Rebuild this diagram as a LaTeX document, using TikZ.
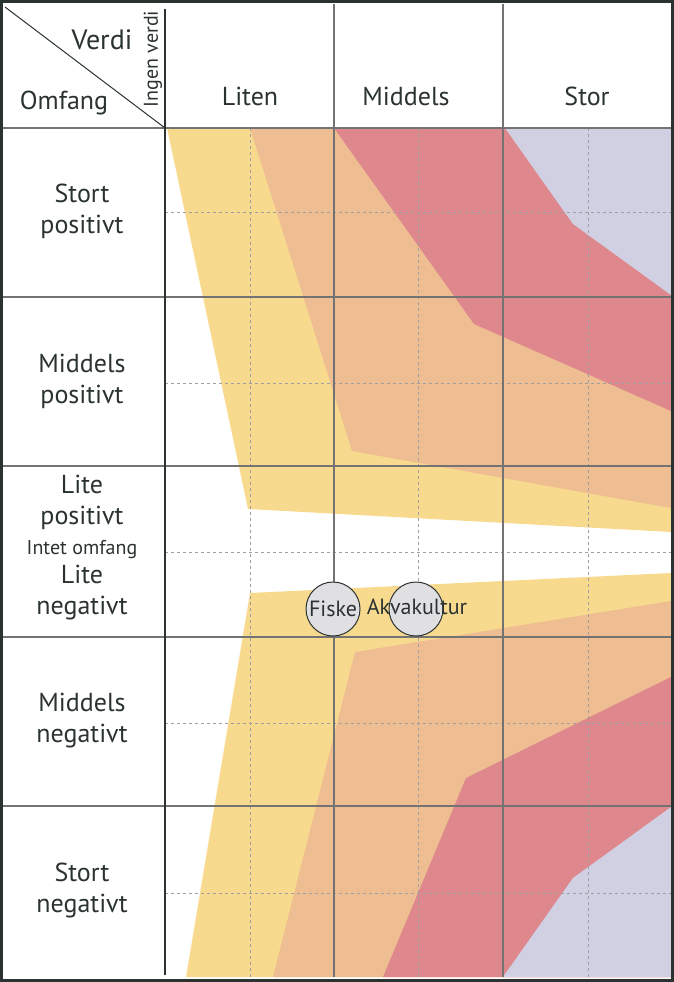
\documentclass[tikz,border=0pt]{standalone}
\usepackage{fontspec}
\setmainfont{PT Sans}
\definecolor{txt}{HTML}{2A3232}
\definecolor{gul}{HTML}{F7DA8E}
\definecolor{oransje}{HTML}{EFBD92}
\definecolor{rosa}{HTML}{DE878D}
\definecolor{lilla}{HTML}{D1D0E3}
\definecolor{sirkel}{HTML}{E0E0E2}
\begin{document}
\begin{tikzpicture}[x=1pt, y=-1pt,
    hjelp/.style={draw=gray!75, dashed, line width=1pt},
    rute/.style={draw=black!55, line width=1.8pt},
    etikett/.style={text=txt, font=\fontsize{26}{31}\selectfont, align=center, inner sep=0pt},
    sak/.style={circle, draw=txt, fill=sirkel, line width=1pt, minimum size=54pt, inner sep=0pt}]
    \useasboundingbox (0,0) rectangle (674,982);
    % fargefelt, positiv side
    \fill[gul] (167,128) -- (248,509) -- (671,532) -- (671,128) -- cycle;
    \fill[oransje] (250,128) -- (352,451) -- (671,508) -- (671,128) -- cycle;
    \fill[rosa] (334,128) -- (474,324) -- (671,411) -- (671,128) -- cycle;
    \fill[lilla] (505,128) -- (573,224) -- (671,295) -- (671,128) -- cycle;
    % fargefelt, negativ side
    \fill[gul] (186,977) -- (250,593) -- (671,573) -- (671,977) -- cycle;
    \fill[oransje] (273,977) -- (355,652) -- (671,601) -- (671,977) -- cycle;
    \fill[rosa] (383,977) -- (466,778) -- (671,677) -- (671,977) -- cycle;
    \fill[lilla] (503,977) -- (573,878) -- (671,807) -- (671,977) -- cycle;
    % hjelpelinjer
    \foreach \y in {212,383,552,723,893}
        \draw[hjelp] (165,\y) -- (671,\y);
    \foreach \x in {250,418,588}
        \draw[hjelp] (\x,128) -- (\x,977);
    % rutenett
    \foreach \y in {128,297,466,637,806}
        \draw[rute] (3,\y) -- (671,\y);
    \foreach \x in {334,503}
        \draw[rute] (\x,4) -- (\x,977);
    \coordinate (hjorne) at (5,7);
    \coordinate (kryss) at (165,128);
    \draw[txt, line width=1pt] (hjorne) -- (kryss);
    \draw[txt, line width=2.6pt] (165,9) -- (165,975);
    \draw[txt, line width=3pt] (1.5,1.5) rectangle (672.5,980.5);
    % overskrifter
    \node[etikett, font=\fontsize{28}{31}\selectfont] (verdi) at (102,40) {Verdi};
    \node[etikett] (omfang) at (64,103) {Omfang};
    \node[etikett, rotate=90, font=\fontsize{20}{22}\selectfont] (ingen) at (153,59) {Ingen verdi};
    \node[etikett] (liten) at (250,96) {Liten};
    \node[etikett] (middels) at (406,96) {Middels};
    \node[etikett] (stor) at (587,96) {Stor};
    % rader
    \node[etikett] (stpos) at (82,211) {Stort\\positivt};
    \node[etikett] (mipos) at (82,381) {Middels\\positivt};
    \node[etikett] (lipos) at (82,502) {Lite\\positivt};
    \node[etikett, font=\fontsize{20}{22}\selectfont] (intet) at (82,550) {Intet omfang};
    \node[etikett] (lineg) at (82,593) {Lite\\negativt};
    \node[etikett] (mineg) at (82,721) {Middels\\negativt};
    \node[etikett] (stneg) at (82,890) {Stort\\negativt};
    % saker
    \node[sak] (fiske) at (333,609) {};
    \node[sak] (akva) at (416,609) {};
    \node[etikett, font=\fontsize{22}{24}\selectfont] at (fiske) {Fiske};
    \node[etikett, font=\fontsize{22}{24}\selectfont] at (417,607) {Akvakultur};
\end{tikzpicture}
\end{document}
